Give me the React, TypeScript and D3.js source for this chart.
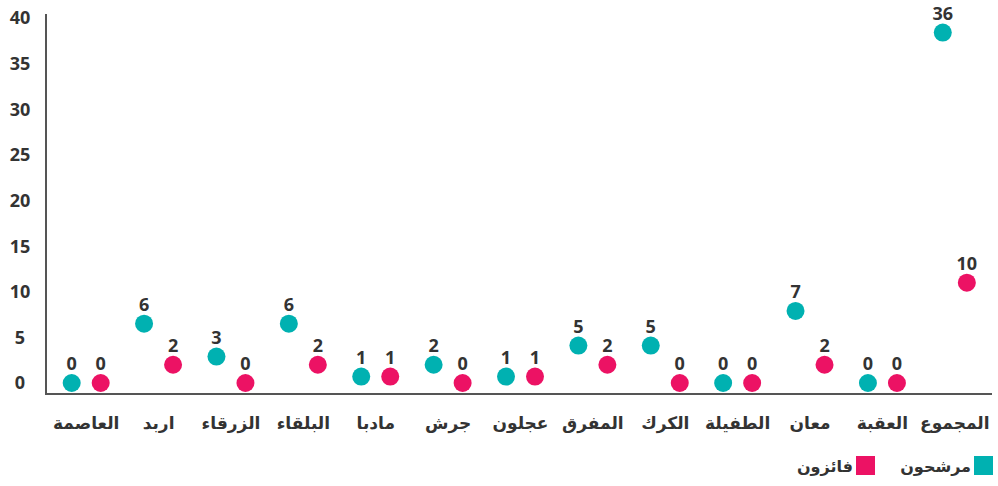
import React, { useEffect, useRef } from "react";
import * as d3 from "d3";

// governorates, right-to-left reading but drawn left to right as in the source
const categories = [
  "العاصمة", "اربد", "الزرقاء", "البلقاء", "مادبا", "جرش", "عجلون",
  "المفرق", "الكرك", "الطفيلة", "معان", "العقبة", "المجموع",
];

// numbers printed above the dots
const candidatesLabel = [0, 6, 3, 6, 1, 2, 1, 5, 5, 0, 7, 0, 36];
const winnersLabel = [0, 2, 0, 2, 1, 0, 1, 2, 0, 0, 2, 0, 10];

// where the dots actually sit on the axis in the source picture
const candidatesPos = [0, 6.5, 2.9, 6.5, 0.7, 2, 0.7, 4.1, 4.1, 0, 7.9, 0, 38.4];
const winnersPos = [0, 2, 0, 2, 0.7, 0, 0.7, 2, 0, 0, 2, 0, 11];

const yTicks = [0, 5, 10, 15, 20, 25, 30, 35, 40];
const seriesNames = ["مرشحون", "فائزون"];
const colors = ["#00B1B1", "#EC1264"];

const width = 998;
const height = 486;
const font = "'Open Sans', 'DejaVu Sans', sans-serif";

export default function App() {
  const ref = useRef<SVGSVGElement | null>(null);

  useEffect(() => {
    const svg = d3.select(ref.current);
    svg.selectAll("*").remove();

    const x = d3.scaleBand<string>().domain(categories).range([50, 991]);
    const y = d3.scaleLinear().domain([0, 40]).range([383, 18]);

    // y tick labels (no tick marks)
    svg.append("g")
      .selectAll("text")
      .data(yTicks)
      .enter()
      .append("text")
      .attr("x", 20)
      .attr("y", d => y(d))
      .attr("dy", "0.36em")
      .attr("text-anchor", "middle")
      .attr("font-family", font)
      .attr("font-weight", "bold")
      .attr("font-size", 18)
      .attr("fill", "#333")
      .text(d => d);

    // axis lines
    svg.append("line")
      .attr("x1", 46).attr("x2", 46)
      .attr("y1", 14).attr("y2", 395)
      .attr("stroke", "#555").attr("stroke-width", 2);
    svg.append("line")
      .attr("x1", 45).attr("x2", 992)
      .attr("y1", 394).attr("y2", 394)
      .attr("stroke", "#555").attr("stroke-width", 2);

    // category labels
    svg.append("g")
      .selectAll("text")
      .data(categories)
      .enter()
      .append("text")
      .attr("x", d => x(d)! + x.bandwidth() / 2)
      .attr("y", 429)
      .attr("text-anchor", "middle")
      .attr("font-family", font)
      .attr("font-weight", "bold")
      .attr("font-size", 17)
      .attr("fill", "#333")
      .text(d => d);

    const series = [
      { pos: candidatesPos, labels: candidatesLabel, offset: -14.5 },
      { pos: winnersPos, labels: winnersLabel, offset: 14.5 },
    ];

    series.forEach((s, si) => {
      const g = svg.append("g");
      const cx = (i: number) => {
        const base = x(categories[i])! + x.bandwidth() / 2;
        // the total group is a bit tighter
        const off = i === categories.length - 1 ? s.offset * 0.83 : s.offset;
        return base + off;
      };
      g.selectAll("circle")
        .data(s.pos)
        .enter()
        .append("circle")
        .attr("cx", (d, i) => cx(i))
        .attr("cy", d => y(d))
        .attr("r", 9)
        .attr("fill", colors[si]);
      g.selectAll("text")
        .data(s.pos)
        .enter()
        .append("text")
        .attr("x", (d, i) => cx(i))
        .attr("y", d => y(d) - 13)
        .attr("text-anchor", "middle")
        .attr("font-family", font)
        .attr("font-weight", "bold")
        .attr("font-size", 18)
        .attr("fill", "#333")
        .text((d, i) => s.labels[i]);
    });

    // legend
    const legend = [
      { name: seriesNames[0], color: colors[0], x: 974 },
      { name: seriesNames[1], color: colors[1], x: 856 },
    ];
    legend.forEach(l => {
      svg.append("rect")
        .attr("x", l.x).attr("y", 456)
        .attr("width", 19).attr("height", 19)
        .attr("fill", l.color);
      svg.append("text")
        .attr("x", l.x - 3)
        .attr("y", 472)
        .attr("text-anchor", "end")
        .attr("font-family", font)
        .attr("font-weight", "bold")
        .attr("font-size", 16)
        .attr("fill", "#333")
        .text(l.name);
    });
  }, []);

  return (
    <svg
      ref={ref}
      width={width}
      height={height}
      style={{ position: "absolute", left: 0, top: 0, background: "#fff" }}
    />
  );
}
